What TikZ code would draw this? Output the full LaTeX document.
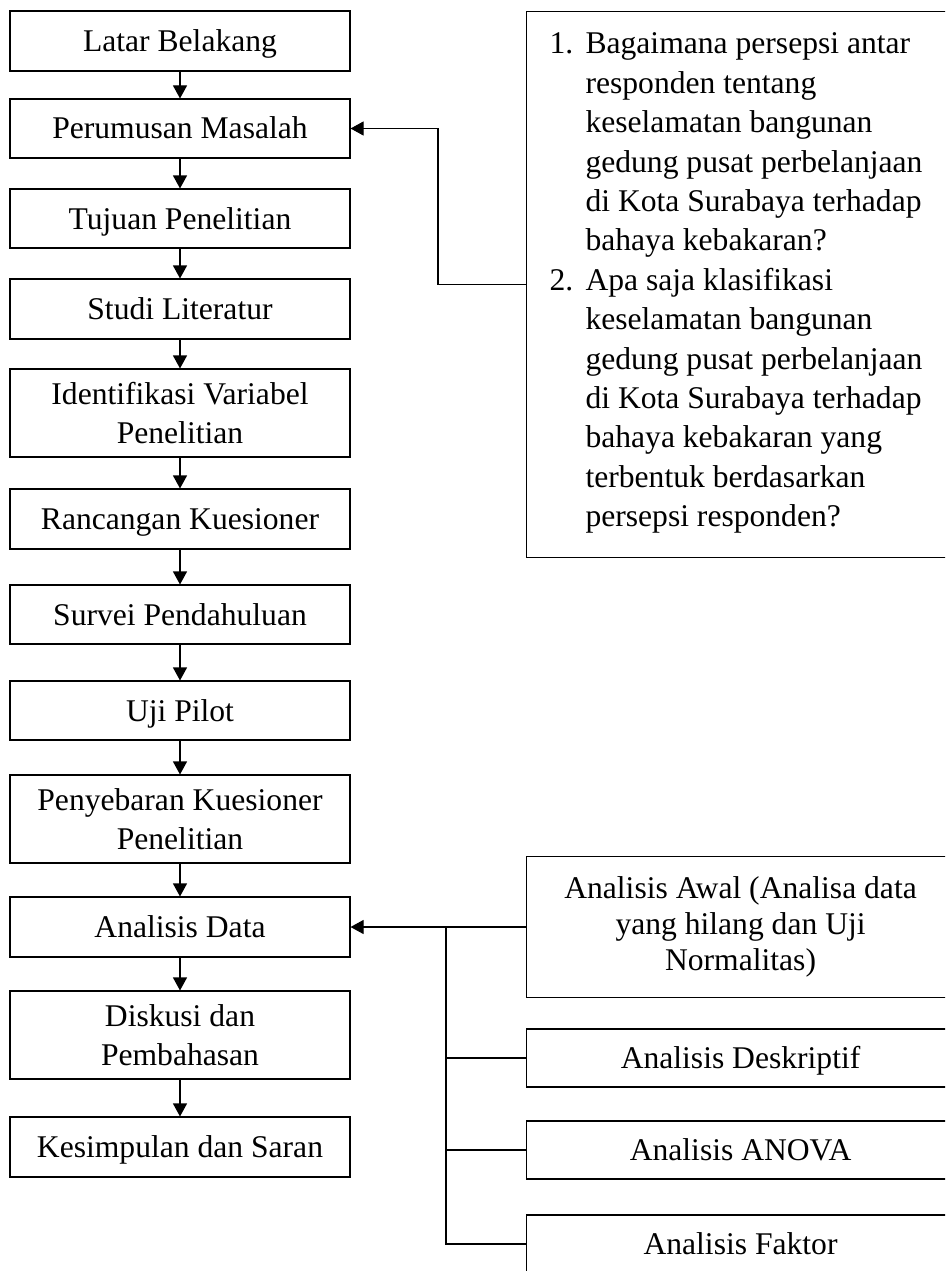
\documentclass[tikz,border=0pt]{standalone}
\usepackage{fontspec}
\setmainfont{Liberation Serif}
\usetikzlibrary{arrows.meta}
\newcommand\fsz{\fontsize{31.6pt}{39.4pt}\selectfont}
\newcommand\fszb{\fontsize{31.6pt}{36pt}\selectfont}
\begin{document}
\begin{tikzpicture}[x=1pt,y=-1pt,
  line width=1.1pt,
  box/.style={draw, line width=1.1pt, minimum width=340pt, inner sep=0pt, align=center, font=\fsz},
  one/.style={text height=21pt, text depth=0pt},
  rbox/.style={draw, line width=1.1pt, minimum width=428pt, inner sep=0pt, align=center, font=\fsz, anchor=west},
  arr/.style={-{Triangle[width=14pt,length=13pt]}, line width=1.1pt},
  lnk/.style={line width=1.1pt}]
\useasboundingbox (0,0) rectangle (945,1271);
\clip (0,0) rectangle (945,1271);
% left column
\node[box,one,minimum height=60pt] (b1) at (180,41) {Latar Belakang};
\node[box,one,minimum height=59pt] (b2) at (180,128.5) {Perumusan Masalah};
\node[box,one,minimum height=59pt] (b3) at (180,218.5) {Tujuan Penelitian};
\node[box,one,minimum height=60pt] (b4) at (180,309) {Studi Literatur};
\node[box,minimum height=88pt] (b5) at (180,413) {Identifikasi Variabel\\Penelitian};
\node[box,one,minimum height=60pt] (b6) at (180,519) {Rancangan Kuesioner};
\node[box,one,minimum height=59pt] (b7) at (180,614.5) {Survei Pendahuluan};
\node[box,one,minimum height=59pt] (b8) at (180,710.5) {Uji Pilot};
\node[box,minimum height=88pt] (b9) at (180,819) {Penyebaran Kuesioner\\Penelitian};
\node[box,one,minimum height=60pt] (b10) at (180,927) {Analisis Data};
\node[box,minimum height=88pt] (b11) at (180,1035) {Diskusi dan\\Pembahasan};
\node[box,one,minimum height=60pt] (b12) at (180,1147) {Kesimpulan dan Saran};
\foreach \a/\b in {b1/b2,b2/b3,b3/b4,b4/b5,b5/b6,b6/b7,b7/b8,b8/b9,b9/b10,b10/b11,b11/b12}
  \draw[arr] (\a.south) -- (\b.north);
% top right box
\node[draw, line width=1.1pt, minimum width=454pt, minimum height=546pt, inner sep=0pt, anchor=north west] (q) at (526,11) {};
\node[font=\fsz, inner sep=0pt, anchor=base west] (qt) at (549,54) {\begin{tabular}[t]{@{}l@{}l@{}}
\makebox[36pt][l]{1.} & Bagaimana persepsi antar\\
 & responden tentang\\
 & keselamatan bangunan\\
 & gedung pusat perbelanjaan\\
 & di Kota Surabaya terhadap\\
 & bahaya kebakaran?\\
\makebox[36pt][l]{2.} & Apa saja klasifikasi\\
 & keselamatan bangunan\\
 & gedung pusat perbelanjaan\\
 & di Kota Surabaya terhadap\\
 & bahaya kebakaran yang\\
 & terbentuk berdasarkan\\
 & persepsi responden?
\end{tabular}};
\draw[arr] (q.west) -- ++(-88,0) |- (b2.east);
% bottom right boxes
\node[rbox, minimum height=141pt, font=\fszb] (r1) at (526,927) {Analisis Awal (Analisa data\\yang hilang dan Uji\\Normalitas)};
\node[rbox, one, minimum height=58pt] (r2) at (526,1058) {Analisis Deskriptif};
\node[rbox, one, minimum height=58pt] (r3) at (526,1150) {Analisis ANOVA};
\node[rbox, one, minimum height=58pt] (r4) at (526,1244) {Analisis Faktor};
\draw[arr] (r1.west) -- (b10.east);
\coordinate (j) at (446,927);
\draw[lnk] (j) |- (r2.west);
\draw[lnk] (j) |- (r3.west);
\draw[lnk] (j) |- (r4.west);
\end{tikzpicture}
\end{document}
